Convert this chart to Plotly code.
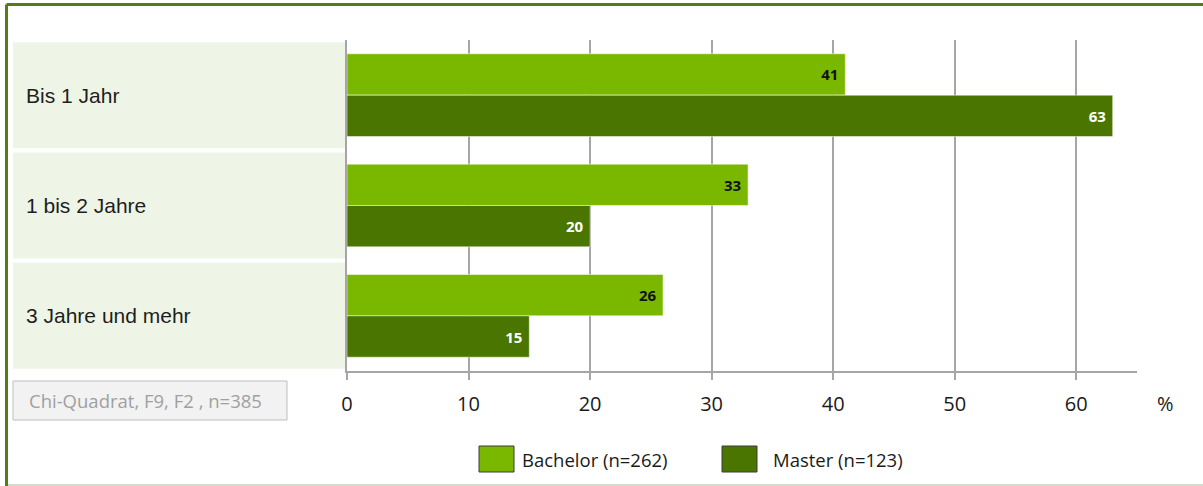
import plotly.graph_objects as go

categories = ["Bis 1 Jahr", "1 bis 2 Jahre", "3 Jahre und mehr"]
bachelor = [41, 33, 26]
master = [63, 20, 15]
series_names = ["Bachelor (n=262)", "Master (n=123)"]
tick_values = [0, 10, 20, 30, 40, 50, 60]
note_text = "Chi-Quadrat, F9, F2 , n=385"
unit_label = "%"

W, H = 1203, 486
L, R, T, B = 347, 66, 40, 115
PW, PH = W - L - R, H - T - B

def px(x):
    return (x - L) / PW

def py(y):
    return (H - B - y) / PH

C_BACH = "#7AB800"
C_MAST = "#4A7600"
C_BAND = "#EEF5E6"
C_GRID = "#A6A6A6"

fig = go.Figure()
fig.add_trace(go.Bar(
    y=categories, x=bachelor, orientation="h", name=series_names[0],
    marker=dict(color=C_BACH, line=dict(color="rgba(255,255,255,0.5)", width=1)),
    text=[f"{v}&nbsp;" for v in bachelor], textposition="inside", insidetextanchor="end",
    textangle=0,
    insidetextfont=dict(family="Open Sans", size=15, color="#111111", weight="bold"),
    showlegend=False,
))
fig.add_trace(go.Bar(
    y=categories, x=master, orientation="h", name=series_names[1],
    marker=dict(color=C_MAST, line=dict(color="rgba(255,255,255,0.5)", width=1)),
    text=[f"{v}&nbsp;" for v in master], textposition="inside", insidetextanchor="end",
    textangle=0,
    insidetextfont=dict(family="Open Sans", size=15, color="#FFFFFF", weight="bold"),
    showlegend=False,
))

shapes = []
annotations = []
# category bands and labels
for i, c in enumerate(categories):
    shapes.append(dict(type="rect", xref="paper", yref="y", x0=px(13), x1=px(345),
                       y0=i - 0.48, y1=i + 0.48, fillcolor=C_BAND, line=dict(width=0),
                       layer="below"))
    annotations.append(dict(text=c, xref="paper", yref="y", x=px(24), y=i,
                            xanchor="left", yanchor="middle", showarrow=False,
                            font=dict(family="Liberation Sans", size=21, color="#1E1E1E")))

# note box
shapes.append(dict(type="rect", xref="paper", yref="paper", x0=px(13), x1=px(287),
                   y0=py(420), y1=py(381), fillcolor="#F2F2F2",
                   line=dict(color="#BFBFBF", width=1)))
annotations.append(dict(text=note_text, xref="paper", yref="paper", x=px(145), y=py(400.5),
                        xanchor="center", yanchor="middle", showarrow=False,
                        font=dict(family="Open Sans", size=18.5, color="#A0A0A0")))

# unit label
annotations.append(dict(text=unit_label, xref="paper", yref="paper", x=px(1165), y=py(403),
                        xanchor="center", yanchor="middle", showarrow=False,
                        font=dict(family="Open Sans", size=20, color="#1A1A1A")))

# legend (custom)
legend_items = [(series_names[0], C_BACH, 479, 520), (series_names[1], C_MAST, 722, 771)]
for name, col, sx, tx in legend_items:
    shapes.append(dict(type="rect", xref="paper", yref="paper", x0=px(sx), x1=px(sx + 35),
                       y0=py(472), y1=py(446), fillcolor=col,
                       line=dict(color="#3A3A3A", width=1)))
    annotations.append(dict(text=name, xref="paper", yref="paper", x=px(tx), y=py(459),
                            xanchor="left", yanchor="middle", showarrow=False,
                            font=dict(family="Open Sans", size=18.5, color="#1A1A1A")))

# outer frame
shapes.append(dict(type="line", xref="paper", yref="paper", x0=px(6.5), x1=px(1210),
                   y0=py(4.5), y1=py(4.5), line=dict(color="#4F7F12", width=3)))
shapes.append(dict(type="line", xref="paper", yref="paper", x0=px(6.5), x1=px(6.5),
                   y0=py(4.5), y1=py(490), line=dict(color="#4F7F12", width=3)))
shapes.append(dict(type="line", xref="paper", yref="paper", x0=px(8), x1=px(1210),
                   y0=py(485), y1=py(485), line=dict(color="#D5DBC8", width=2)))

fig.update_layout(
    width=W, height=H,
    margin=dict(l=L, r=R, t=T, b=B, pad=0),
    paper_bgcolor="white", plot_bgcolor="white",
    barmode="group", bargap=0.25, bargroupgap=0,
    shapes=shapes, annotations=annotations,
    showlegend=False,
    uniformtext=dict(minsize=15, mode="show"),
)
fig.update_xaxes(
    range=[0, 65], tickvals=tick_values, ticktext=[str(v) for v in tick_values],
    showgrid=True, gridcolor=C_GRID, gridwidth=2,
    showline=True, linecolor=C_GRID, linewidth=2,
    ticks="outside", ticklen=7, tickwidth=2, tickcolor=C_GRID,
    tickfont=dict(family="Open Sans", size=20, color="#1A1A1A"),
    ticklabelstandoff=7, zeroline=False, fixedrange=True,
)
fig.update_yaxes(
    range=[2.5, -0.5], showticklabels=False, showgrid=False,
    showline=True, linecolor=C_GRID, linewidth=2, ticks="", zeroline=False,
    fixedrange=True,
)

fig.write_html("out.html")
